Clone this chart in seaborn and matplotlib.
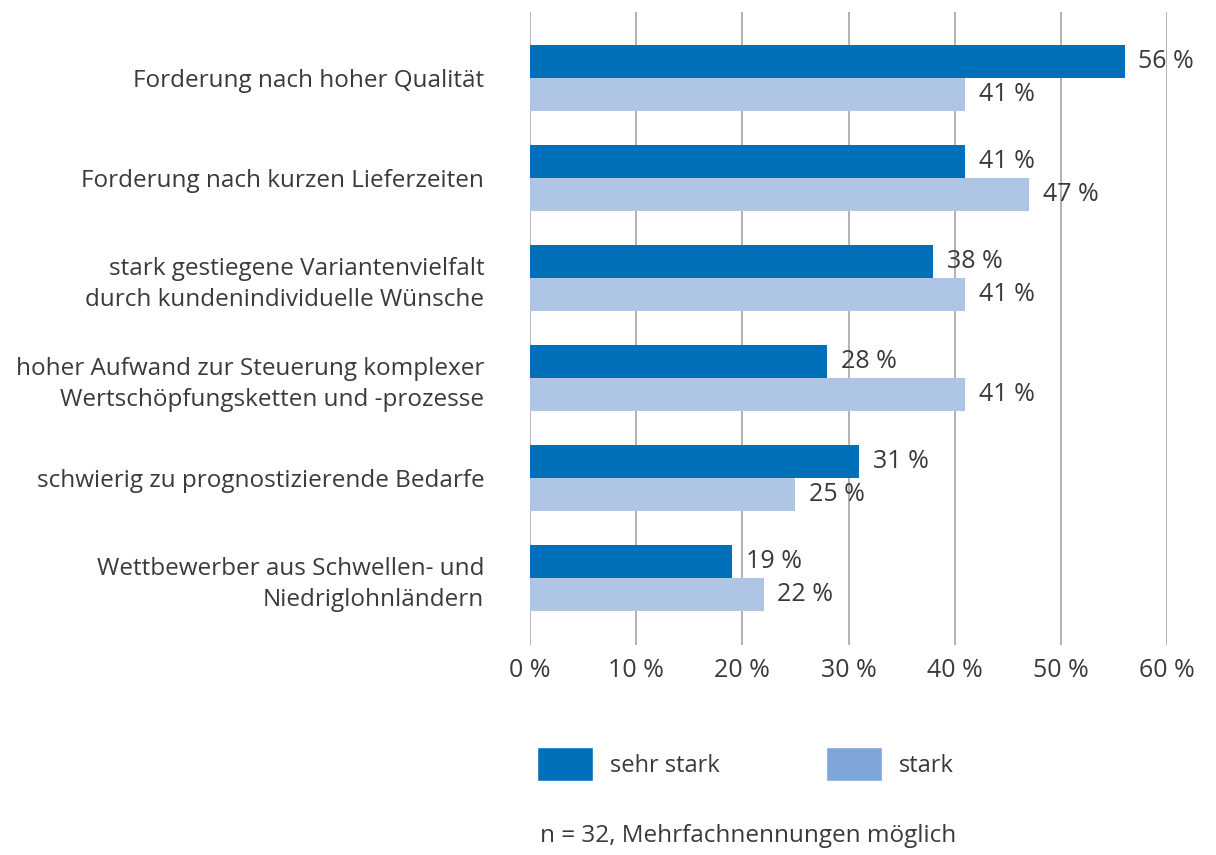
import pandas as pd
import numpy as np
import matplotlib
matplotlib.use("Agg")
import matplotlib.pyplot as plt
import seaborn as sns
from matplotlib.patches import Patch

# Data
categories = [
    "Forderung nach hoher Qualität",
    "Forderung nach kurzen Lieferzeiten",
    "stark gestiegene Variantenvielfalt\ndurch kundenindividuelle Wünsche",
    "hoher Aufwand zur Steuerung komplexer\nWertschöpfungsketten und -prozesse",
    "schwierig zu prognostizierende Bedarfe",
    "Wettbewerber aus Schwellen- und\nNiedriglohnländern",
]
sehr_stark = [56, 41, 38, 28, 31, 19]
stark = [41, 47, 41, 41, 25, 22]
series = ["sehr stark", "stark"]
x_ticks = [0, 10, 20, 30, 40, 50, 60]

df = pd.DataFrame({
    "kategorie": categories * 2,
    "wert": sehr_stark + stark,
    "reihe": [series[0]] * len(categories) + [series[1]] * len(categories),
})

sns.set_style("white")
plt.rcParams["font.family"] = ["Open Sans", "DejaVu Sans"]
text_col = "#3a3a3a"

fig = plt.figure(figsize=(12.16, 8.55), dpi=100)
ax = fig.add_axes([530 / 1216, 1 - 645 / 855, 637 / 1216, 633 / 855])

sns.barplot(data=df, y="kategorie", x="wert", hue="reihe", orient="h",
            palette=["#0070BA", "#AFC5E5"], width=0.66, saturation=1,
            linewidth=0, edgecolor="none", legend=False, ax=ax)

# Value labels
for cont in ax.containers:
    ax.bar_label(cont, labels=[f"{int(v)} %" for v in cont.datavalues],
                 padding=10, fontsize=18, color=text_col)

ax.set_xlim(0, 60)
ax.set_ylim(5.67, -0.66)
ax.set_xticks(x_ticks)
ax.set_xticklabels([f"{t} %" for t in x_ticks])
ax.xaxis.grid(True, color="#A6A6A6", linewidth=1.2)
ax.set_axisbelow(True)
for s in ax.spines.values():
    s.set_visible(False)
ax.tick_params(axis="x", length=0, pad=9, labelsize=18, labelcolor=text_col)
ax.tick_params(axis="y", length=0, pad=33, labelsize=17.5, labelcolor=text_col)
for lbl in ax.get_yticklabels():
    lbl.set_horizontalalignment("right")
    lbl.set_multialignment("right")
    lbl.set_linespacing(1.4)
ax.set_xlabel("")
ax.set_ylabel("")

# Legend
handles = [Patch(facecolor="#0070BA", label="sehr stark"),
           Patch(facecolor="#7FA6D9", label="stark")]
fig.legend(handles=handles, loc="center left", bbox_to_anchor=(537 / 1216, 1 - 764 / 855),
           ncol=2, frameon=False, fontsize=17, handlelength=2.37, handleheight=1.85,
           handletextpad=0.72, columnspacing=4.5, borderpad=0, borderaxespad=0,
           labelcolor=text_col)

fig.text(540 / 1216, 1 - 836 / 855, "n = 32, Mehrfachnennungen möglich",
         fontsize=17.5, color=text_col, va="center", ha="left")

fig.savefig("out.png", dpi=100)
